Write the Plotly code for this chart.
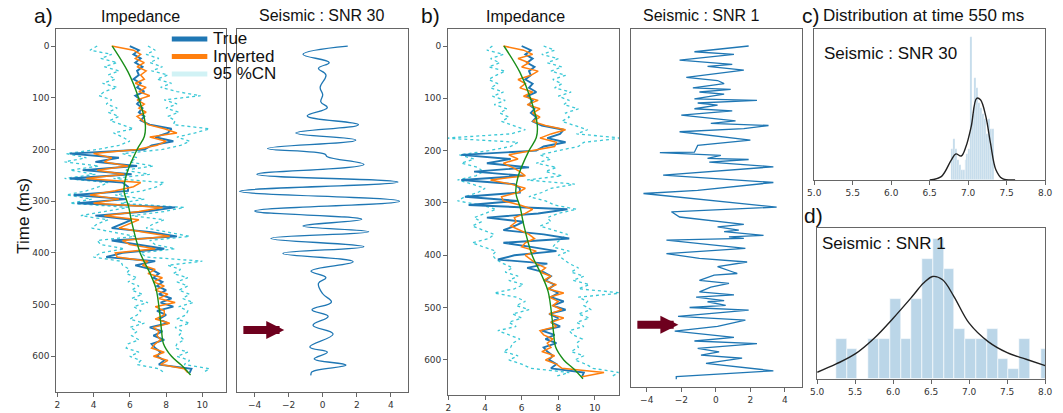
import plotly.graph_objects as go

# ---------------- data ----------------
TIME = [0, 8, 16, 24, 32, 40, 48, 56, 64, 72, 80, 88, 96, 104, 112, 120, 128, 136, 144, 152,
        160, 168, 176, 184, 192, 200, 208, 216, 224, 232, 240, 248, 256, 264, 272, 280, 288, 296, 304, 312,
        320, 328, 336, 344, 352, 360, 368, 376, 384, 392, 400, 408, 416, 424, 432, 440, 448, 456, 464, 472,
        480, 488, 496, 504, 512, 520, 528, 536, 544, 552, 560, 568, 576, 584, 592, 600, 608, 616, 624, 632]

TRUE_IMP = [6.0, 6.5, 6.2, 6.6, 6.3, 6.7, 6.4, 6.5, 6.2, 6.6, 6.4, 6.8, 6.3, 6.6, 6.4, 6.7, 6.5, 6.8, 6.6, 7.1,
            8.3, 8.1, 7.4, 8.4, 7.2, 6.8, 2.7, 5.4, 4.1, 6.4, 3.4, 6.1, 2.7, 5.6, 5.9, 5.9, 2.9, 5.8, 3.1, 8.5,
            6.9, 4.1, 6.1, 5.6, 5.0, 7.2, 8.6, 5.0, 6.5, 7.9, 5.6, 4.7, 7.4, 6.3, 7.2, 7.6, 7.3, 7.8, 7.5, 8.0,
            7.6, 8.3, 7.7, 8.4, 7.5, 8.0, 7.6, 8.1, 7.1, 7.8, 7.3, 7.9, 7.2, 7.4, 7.7, 7.5, 7.9, 7.6, 9.4, 9.3]

INV_A = [5.0, 6.2, 6.6, 6.3, 6.8, 6.4, 6.9, 6.6, 6.8, 6.3, 6.9, 6.5, 7.1, 6.4, 6.8, 6.5, 6.9, 6.4, 6.7, 7.0,
         7.9, 8.6, 7.1, 8.0, 7.5, 6.4, 4.0, 5.0, 4.6, 5.9, 4.2, 5.7, 3.6, 6.6, 6.2, 5.2, 3.8, 5.4, 4.0, 7.8,
         6.5, 4.6, 6.5, 5.9, 5.4, 6.8, 8.2, 5.6, 6.0, 7.4, 5.2, 5.3, 7.0, 6.7, 7.4, 7.0, 7.8, 7.3, 7.9, 7.4,
         8.1, 7.6, 8.5, 7.4, 7.9, 7.9, 7.4, 8.2, 7.3, 7.6, 7.5, 7.7, 7.4, 7.2, 7.9, 7.3, 8.1, 7.7, 9.0, 9.2]

CN_LOW_A = [4.2, 3.8, 5.0, 4.4, 5.3, 4.6, 5.4, 4.8, 5.2, 4.5, 5.3, 4.6, 4.3, 5.0, 4.7, 5.3, 4.8, 5.4, 4.9, 5.5,
            6.2, 5.1, 5.6, 6.0, 5.4, 4.2, 2.5, 3.6, 2.4, 4.3, 2.7, 4.1, 2.4, 4.8, 4.3, 3.6, 2.5, 3.9, 2.7, 5.9,
            4.6, 3.3, 4.8, 4.2, 3.9, 5.0, 6.3, 4.2, 4.4, 5.7, 4.4, 4.0, 5.5, 5.6, 6.0, 5.8, 6.4, 5.9, 6.5, 6.1,
            6.7, 6.1, 7.0, 6.2, 6.6, 6.4, 6.0, 6.8, 6.0, 6.4, 6.1, 6.5, 5.9, 5.8, 6.5, 6.0, 6.6, 6.4, 7.6, 7.9]

CN_UP_A = [7.0, 7.4, 6.9, 7.6, 7.1, 7.8, 7.2, 8.1, 7.5, 8.3, 7.7, 8.6, 9.9, 7.9, 8.6, 8.0, 8.7, 8.1, 8.5, 8.4,
           10.4, 9.6, 8.6, 9.3, 8.8, 7.8, 5.6, 6.4, 6.0, 7.3, 5.7, 7.1, 5.1, 7.9, 7.5, 6.7, 5.2, 6.8, 5.5, 9.0,
           7.9, 6.1, 7.9, 7.3, 6.9, 8.1, 9.3, 7.1, 7.4, 8.5, 6.6, 6.9, 10.0, 8.1, 8.8, 8.4, 9.2, 8.6, 9.2, 8.7,
           9.3, 8.9, 9.5, 8.7, 9.2, 9.1, 8.6, 9.3, 8.5, 8.9, 8.7, 9.0, 8.6, 8.5, 9.2, 8.6, 9.3, 9.0, 10.4, 10.0]

INV_B = [5.0, 6.1, 6.6, 5.8, 6.4, 6.0, 6.9, 6.5, 5.8, 6.2, 5.9, 6.6, 6.1, 6.9, 6.3, 7.0, 6.6, 7.0, 6.6, 7.3,
         8.4, 7.6, 7.0, 7.9, 7.8, 6.5, 5.3, 5.8, 5.0, 5.5, 5.9, 6.2, 4.3, 5.4, 6.2, 5.8, 4.9, 5.0, 5.9, 6.6,
         6.2, 5.6, 5.7, 5.4, 5.9, 6.4, 6.7, 6.2, 6.0, 6.8, 6.2, 6.5, 6.8, 7.3, 7.0, 7.6, 7.2, 7.9, 7.4, 8.3,
         7.5, 8.0, 7.7, 8.2, 7.5, 8.3, 7.6, 7.9, 7.0, 7.2, 7.7, 7.4, 7.6, 7.1, 7.8, 7.3, 7.9, 8.2, 10.5, 9.3]

CN_LOW_B = [4.4, 4.1, 5.0, 4.3, 4.8, 4.2, 5.1, 4.6, 4.2, 4.7, 4.3, 5.0, 4.4, 5.1, 4.5, 5.2, 4.8, 5.3, 4.9, 5.6,
            6.2, 5.4, 1.8, 5.8, 5.4, 4.2, 2.6, 3.4, 2.7, 3.6, 3.9, 3.5, 2.5, 3.3, 4.0, 3.6, 2.9, 2.5, 3.8, 4.6,
            4.0, 3.4, 3.8, 3.3, 3.9, 4.5, 4.2, 3.3, 3.9, 4.6, 4.4, 4.6, 5.0, 5.5, 5.1, 5.8, 5.3, 6.1, 5.6, 4.5,
            5.7, 6.2, 5.7, 6.4, 5.5, 6.0, 5.3, 5.7, 4.7, 5.3, 5.9, 5.5, 5.4, 5.0, 5.8, 5.3, 6.0, 6.5, 8.6, 7.8]

CN_UP_B = [7.2, 7.8, 7.1, 8.0, 7.4, 8.2, 7.6, 8.4, 7.7, 8.2, 7.8, 8.7, 8.0, 8.6, 8.3, 9.1, 8.4, 8.6, 8.2, 8.9,
           9.6, 9.0, 11.5, 9.4, 9.1, 8.0, 7.0, 7.6, 6.8, 7.9, 7.3, 8.2, 6.3, 8.9, 7.6, 7.1, 6.4, 7.3, 7.8, 9.0,
           8.0, 7.4, 7.6, 7.0, 7.8, 8.5, 8.2, 7.9, 7.7, 8.6, 8.0, 8.3, 8.6, 9.1, 8.7, 9.4, 8.8, 9.7, 9.1, 11.5,
           9.1, 9.6, 9.4, 9.8, 9.1, 9.7, 9.0, 9.4, 8.6, 8.8, 9.3, 9.0, 9.1, 8.7, 9.4, 8.9, 9.5, 9.9, 11.3, 10.9]

TREND_T = [0, 50, 100, 150, 175, 200, 250, 280, 310, 340, 400, 440, 470, 520, 550, 575, 600, 617, 636]
TREND_V = [5.03, 5.9, 6.48, 6.85, 6.8, 6.4, 5.8, 5.68, 5.93, 6.1, 6.57, 7.12, 7.45, 7.66, 7.75, 7.85, 8.3, 8.84, 9.35]

SEIS30_T = [0, 16, 32, 43, 56, 80, 94, 108, 119, 135, 152, 168, 182, 198, 209, 214, 229, 248, 263, 281,
            300, 319, 335, 348, 359, 372, 388, 401, 417, 435, 448, 459, 479, 495, 510, 523, 540, 557, 582, 592,
            605, 617, 630, 637]
SEIS30_V = [1.47, -1.16, 0.38, -0.25, 0.19, -0.15, 0.0, -0.11, 0.27, -0.91, 2.1, -1.58, 1.94, -3.24, 0.13, 0.27,
            2.42, -3.87, 4.42, -4.88, 4.51, -4.0, 2.29, -1.16, 2.7, -3.05, 2.42, -2.34, 1.79, -0.69, 0.19, -0.25,
            0.0, 0.51, -0.63, 0.32, -0.57, 0.61, -0.76, 0.27, -0.5, 1.37, -0.63, -0.69]

SEIS1_T = [0, 11, 16, 27, 35, 39, 46, 60, 66, 72, 80, 83, 88, 92, 101, 104, 109, 113, 120, 124,
           132, 143, 148, 152, 158, 164, 180, 190, 203, 204, 209, 215, 217, 222, 231, 247, 261, 276, 282, 308,
           317, 327, 341, 346, 352, 355, 362, 365, 368, 371, 387, 397, 406, 413, 422, 435, 438, 448, 454, 461,
           470, 476, 480, 487, 489, 496, 500, 505, 517, 524, 536, 545, 557, 564, 569, 578, 585, 591, 597, 607,
           621, 632, 637]
SEIS1_V = [1.9, -1.24, 1.05, -2.1, 0.95, -0.48, 1.62, -1.71, 0.1, 0.48, -1.33, 0.86, -0.95, 0.48, -1.24, 2.38,
           -1.05, 0.1, -1.24, 0.95, -2.0, 1.14, -0.29, 3.05, 1.62, -2.1, 2.0, -1.05, -1.24, -3.24, 0.29, -0.48,
           1.9, -0.38, 3.33, -3.05, 3.33, -1.05, -4.19, 3.52, -2.57, -2.1, 1.62, 0.1, 1.33, 0.48, 2.76, 0.76,
           1.62, -2.86, 1.71, -2.86, -0.95, 1.81, 0.1, 1.24, -0.1, -0.95, 0.76, -0.29, -0.95, 1.05, -1.14, 0.48,
           -0.48, 0.57, -1.52, 1.9, -2.19, 1.71, 0.1, -2.38, 1.05, -1.24, 2.38, -1.05, 0.19, -0.86, 1.52, -0.57,
           3.33, -2.29, -2.29]

HIST_C_X = [6.791, 6.816, 6.841, 6.867, 6.892, 6.917, 6.943, 6.968, 6.993, 7.019, 7.044,
            7.069, 7.094, 7.120, 7.145, 7.170, 7.196, 7.221, 7.246, 7.271, 7.297, 7.322]
HIST_C_Y = [6, 8, 6, 4, 3, 2, 2, 4, 5, 6, 28, 13, 20, 18, 15, 14, 13, 12, 9, 12, 10, 10]
KDE_C_X = [6.5, 6.65, 6.78, 6.84, 6.91, 6.97, 7.04, 7.11, 7.16, 7.23, 7.29, 7.36, 7.44, 7.61]
KDE_C_Y = [0.0, 0.65, 3.9, 5.1, 4.7, 6.5, 10.5, 16.0, 15.7, 12.4, 7.2, 2.0, 0.3, 0.0]

HIST_D_X = [5.318, 5.460, 5.602, 5.744, 5.886, 6.028, 6.170, 6.312, 6.454, 6.596,
            6.738, 6.880, 7.022, 7.164, 7.306, 7.448, 7.590, 7.732, 7.874, 8.016]
HIST_D_Y = [4, 3, 0, 4, 4, 8, 4, 8, 12, 14, 11, 5, 4, 4, 5, 2, 1, 4, 0, 3]
KDE_D_X = [5.0, 5.25, 5.5, 5.75, 6.0, 6.25, 6.4, 6.52, 6.65, 6.8, 7.0, 7.25, 7.5, 7.75, 8.0]
KDE_D_Y = [0.67, 1.5, 2.5, 4.07, 6.07, 8.23, 9.57, 10.23, 9.9, 8.23, 5.57, 3.73, 2.63, 1.97, 1.33]

IMP_TICKS = [2, 4, 6, 8, 10]
SEIS_TICKS = [-4, -2, 0, 2, 4]
TIME_TICKS = [0, 100, 200, 300, 400, 500, 600]
DIST_TICKS = [5.0, 5.5, 6.0, 6.5, 7.0, 7.5, 8.0]
LEGEND_NAMES = ['True', 'Inverted', '95 %CN']

# ---------------- style ----------------
W, H = 1063, 413
BLUE = '#1f77b4'
ORANGE = '#ff7f0e'
CYAN = 'rgba(23,190,207,0.85)'
CN_LEGEND = 'rgba(23,190,207,0.2)'
GREEN = '#1a8f1a'
FRAME = '#666666'
TICKFONT = dict(family='DejaVu Sans', size=9, color='#333333')
TXT = 'Liberation Sans, Arial, sans-serif'


def dx(a, b):
    return [a / W, b / W]


def dy(top, bottom):
    return [1 - bottom / H, 1 - top / H]


fig = go.Figure()


def impedance_panel(xa, ya, inv, low, up):
    for arr in (low, up):
        fig.add_trace(go.Scatter(x=arr, y=TIME, mode='lines', xaxis=xa, yaxis=ya, showlegend=False,
                                 line=dict(color=CYAN, width=1.3, dash='dot')))
    fig.add_trace(go.Scatter(x=TRUE_IMP, y=TIME, mode='lines', xaxis=xa, yaxis=ya, showlegend=False,
                             line=dict(color=BLUE, width=1.9)))
    fig.add_trace(go.Scatter(x=inv, y=TIME, mode='lines', xaxis=xa, yaxis=ya, showlegend=False,
                             line=dict(color=ORANGE, width=1.5)))
    fig.add_trace(go.Scatter(x=TREND_V, y=TREND_T, mode='lines', xaxis=xa, yaxis=ya, showlegend=False,
                             line=dict(color=GREEN, width=1.4, shape='spline')))


impedance_panel('x', 'y', INV_A, CN_LOW_A, CN_UP_A)
impedance_panel('x3', 'y3', INV_B, CN_LOW_B, CN_UP_B)

fig.add_trace(go.Scatter(x=SEIS30_V, y=SEIS30_T, mode='lines', xaxis='x2', yaxis='y2', showlegend=False,
                         line=dict(color=BLUE, width=1.3, shape='spline', smoothing=1.2)))
fig.add_trace(go.Scatter(x=SEIS1_V, y=SEIS1_T, mode='lines', xaxis='x4', yaxis='y4', showlegend=False,
                         line=dict(color=BLUE, width=1.3)))

HIST_COLOR = 'rgba(31,119,180,0.3)'
fig.add_trace(go.Bar(x=HIST_C_X, y=HIST_C_Y, width=0.0253, xaxis='x5', yaxis='y5', showlegend=False,
                     marker=dict(color=HIST_COLOR, line=dict(color='rgba(255,255,255,0.7)', width=0.6))))
fig.add_trace(go.Scatter(x=KDE_C_X, y=KDE_C_Y, mode='lines', xaxis='x5', yaxis='y5', showlegend=False,
                         line=dict(color='#222222', width=1.4, shape='spline')))
fig.add_trace(go.Bar(x=HIST_D_X, y=HIST_D_Y, width=0.142, xaxis='x6', yaxis='y6', showlegend=False,
                     marker=dict(color=HIST_COLOR, line=dict(color='rgba(255,255,255,0.8)', width=0.8))))
fig.add_trace(go.Scatter(x=KDE_D_X, y=KDE_D_Y, mode='lines', xaxis='x6', yaxis='y6', showlegend=False,
                         line=dict(color='#222222', width=1.4, shape='spline')))

common = dict(showline=True, mirror=True, linecolor=FRAME, linewidth=1, showgrid=False, zeroline=False,
              tickfont=TICKFONT, ticks='outside', ticklen=4, tickwidth=1, tickcolor=FRAME,
              ticklabeloverflow='allow')
noy = dict(showline=True, mirror=True, linecolor=FRAME, linewidth=1, showgrid=False, zeroline=False,
           showticklabels=False, ticks='')

layout_axes = dict(
    xaxis=dict(domain=dx(50, 222), range=[1.946, 11.31], tickvals=IMP_TICKS, anchor='y', **common),
    yaxis=dict(domain=dy(29, 392), range=[669, -33], tickvals=TIME_TICKS, anchor='x', **common),
    xaxis2=dict(domain=dx(233, 406), range=[-5.04, 4.99], tickvals=SEIS_TICKS, anchor='y2', **common),
    yaxis2=dict(domain=dy(29, 392), range=[669, -33], anchor='x2', **noy),
    xaxis3=dict(domain=dx(447, 620), range=[1.98, 11.31], tickvals=IMP_TICKS, anchor='y3', **common),
    yaxis3=dict(domain=dy(29, 395), range=[667, -32.5], tickvals=TIME_TICKS, anchor='x3', **common),
    xaxis4=dict(domain=dx(632, 806), range=[-4.93, 5.01], tickvals=SEIS_TICKS, anchor='y4', **common),
    yaxis4=dict(domain=dy(29, 387), range=[652, -32.5], anchor='x4', **noy),
    xaxis5=dict(domain=dx(818, 1052), range=[5, 8], tickvals=DIST_TICKS, tickformat='.1f', anchor='y5', **common),
    yaxis5=dict(domain=dy(29, 180), range=[0, 29.56], anchor='x5', **noy),
    xaxis6=dict(domain=dx(821, 1052), range=[5, 8], tickvals=DIST_TICKS, tickformat='.1f', anchor='y6', **common),
    yaxis6=dict(domain=dy(228, 379), range=[0, 15.07], anchor='x6', **noy),
)


def label(text, x, y, size, xanchor='center', **kw):
    return dict(text=text, x=x / W, y=1 - y / H, xref='paper', yref='paper', showarrow=False,
                xanchor=xanchor, yanchor='middle', font=dict(family=TXT, size=size, color='#111111'), **kw)


annotations = [
    label('a)', 25, 15, 21, 'left'),
    label('Impedance', 135, 17, 16),
    label('Seismic : SNR 30', 319, 15, 16),
    label('b)', 417, 15, 21, 'left'),
    label('Impedance', 525, 17, 16),
    label('Seismic : SNR 1', 704, 15, 16),
    label('c)', 804, 15, 21, 'left'),
    label('Distribution at time 550 ms', 929, 15, 17),
    label('Seismic : SNR 30', 826, 53, 17, 'left'),
    label('d)', 806, 215, 21, 'left'),
    label('Seismic : SNR 1', 824, 243, 17, 'left'),
    label('Time (ms)', 16, 216, 17, textangle=-90),
]

# manual legend (text + sample lines)
shapes = []
for name, col, yy in zip(LEGEND_NAMES, [BLUE, ORANGE, CN_LEGEND], [39, 56.5, 74]):
    annotations.append(label(name, 207, yy, 17, 'left'))
    shapes.append(dict(type='line', xref='paper', yref='paper', x0=167 / W, x1=203 / W,
                       y0=1 - yy / H, y1=1 - yy / H, line=dict(color=col, width=5)))

ARROW = '#6e001e'
annotations.append(dict(x=-2.26, y=549, xref='x2', yref='y2', ax=-4.75, ay=549, axref='x2', ayref='y2',
                        showarrow=True, arrowhead=2, arrowsize=0.45, arrowwidth=8, arrowcolor=ARROW, text=''))
annotations.append(dict(x=-2.17, y=533, xref='x4', yref='y4', ax=-4.63, ay=533, axref='x4', ayref='y4',
                        showarrow=True, arrowhead=2, arrowsize=0.45, arrowwidth=8, arrowcolor=ARROW, text=''))

fig.update_layout(
    width=W, height=H, margin=dict(l=0, r=0, t=0, b=0),
    paper_bgcolor='white', plot_bgcolor='white',
    annotations=annotations, shapes=shapes,
    bargap=0, showlegend=False,
    **layout_axes,
)

fig.write_html('out.html', config={'displayModeBar': False},
               post_script="document.body.style.margin='0px';document.body.style.overflow='hidden';")
